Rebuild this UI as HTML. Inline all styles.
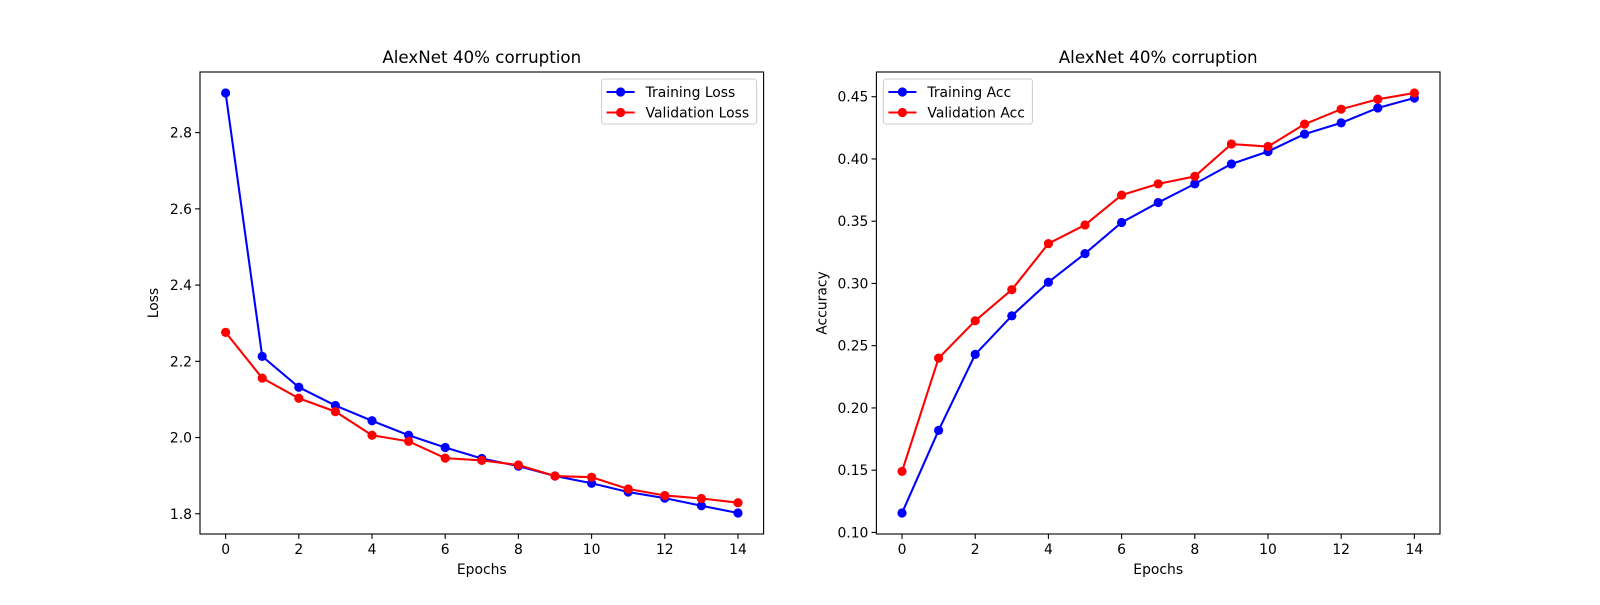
<!DOCTYPE html>
<html><head><meta charset="utf-8"><style>
body{margin:0;background:#fff}
svg text{font-family:"DejaVu Sans","Liberation Sans",sans-serif;fill:#000}
</style></head><body>
<svg id="fig" width="1600" height="600" xmlns="http://www.w3.org/2000/svg"></svg>
<script>
const epochs=[0,1,2,3,4,5,6,7,8,9,10,11,12,13,14];
const trainLoss=[2.904,2.213,2.132,2.084,2.044,2.006,1.974,1.945,1.925,1.899,1.880,1.857,1.841,1.821,1.802];
const valLoss=[2.276,2.156,2.103,2.068,2.006,1.990,1.946,1.940,1.928,1.899,1.896,1.865,1.848,1.840,1.829];
const trainAcc=[0.1156,0.182,0.243,0.274,0.301,0.324,0.349,0.365,0.380,0.396,0.406,0.420,0.429,0.441,0.449];
const valAcc=[0.149,0.240,0.270,0.295,0.332,0.347,0.371,0.380,0.386,0.412,0.410,0.428,0.440,0.448,0.453];
const xTicks=[0,2,4,6,8,10,12,14];
const lossTicks=[1.8,2.0,2.2,2.4,2.6,2.8];
const accTicks=[0.10,0.15,0.20,0.25,0.30,0.35,0.40,0.45];
const NS="http://www.w3.org/2000/svg";
const svg=document.getElementById('fig');
function mk(tag,attrs,parent){const e=document.createElementNS(NS,tag);for(const k in attrs)e.setAttribute(k,attrs[k]);(parent||svg).appendChild(e);return e;}
function panel(cfg){
  const L=cfg.left,R=cfg.left+563.6,T=72,B=534;
  const g=mk('g',{});
  
  
  const all=cfg.s1.concat(cfg.s2);
  const mn=Math.min(...all),mx=Math.max(...all),pad=(mx-mn)*0.05;
  const y0=mn-pad,y1=mx+pad;
  const xs=v=>L+(v+0.7)/15.4*(R-L);
  const ys=v=>B-(v-y0)/(y1-y0)*(B-T);
  xTicks.forEach(t=>{
    const x=xs(t);
    const l=mk('line',{x1:x,x2:x,y1:B,y2:B+4.9,stroke:'#000','stroke-width':1.1},g);
    
    const tx=mk('text',{x:x,y:B+20,'text-anchor':'middle','font-size':'13.9px'},g);
    tx.textContent=t;
    
  });
  cfg.yt.forEach(t=>{
    const y=ys(t);
    const l=mk('line',{x1:L-4.9,x2:L,y1:y,y2:y,stroke:'#000','stroke-width':1.1},g);
    
    const tx=mk('text',{x:L-8,y:y+5,'text-anchor':'end','font-size':'13.9px'},g);
    tx.textContent=t.toFixed(cfg.dec);
    
  });
  [[cfg.s1,'#0000ff','train-line'],[cfg.s2,'#ff0000','val-line']].forEach(([s,c,n])=>{
    const p=mk('polyline',{points:s.map((v,i)=>xs(epochs[i])+','+ys(v)).join(' '),fill:'none',stroke:c,'stroke-width':2.08},g);
    
    s.forEach((v,i)=>{
      const m=mk('circle',{cx:xs(epochs[i]),cy:ys(v),r:4.6,fill:c},g);
      
    });
  });
  const fr=mk('rect',{x:L,y:T,width:R-L,height:B-T,fill:'none',stroke:'#000','stroke-width':1.1},g);
  
  const ti=mk('text',{x:(L+R)/2,y:T-9,'text-anchor':'middle','font-size':'16.7px'},g);
  ti.textContent='AlexNet 40% corruption';
  
  const xl=mk('text',{x:(L+R)/2,y:B+40,'text-anchor':'middle','font-size':'13.9px'},g);
  xl.textContent='Epochs';
  
  const yx=L-cfg.ylOff,yy=(T+B)/2;
  const yl=mk('text',{x:yx,y:yy,'text-anchor':'middle','font-size':'13.9px',transform:`rotate(-90 ${yx} ${yy})`},g);
  yl.textContent=cfg.ylabel;
  
  // legend
  const lw=cfg.legW,lx=cfg.legRight?R-7-lw:L+7,ly=T+7;
  const lg=mk('g',{},g);
  
  mk('rect',{x:lx,y:ly,width:lw,height:45,rx:2.5,fill:'#fff','fill-opacity':0.8,stroke:'#ccc','stroke-width':1},lg);
  [[cfg.n1,'#0000ff',0],[cfg.n2,'#ff0000',1]].forEach(([nm,c,i])=>{
    const yy2=ly+13+i*20.5;
    const e=mk('g',{},lg);
    
    mk('line',{x1:lx+5,x2:lx+33,y1:yy2,y2:yy2,stroke:c,'stroke-width':2.08},e);
    mk('circle',{cx:lx+19,cy:yy2,r:4.6,fill:c},e);
    const t=mk('text',{x:lx+44,y:yy2+5,'font-size':'13.9px'},e);t.textContent=nm;
  });
}
panel({name:'loss-chart',left:200,s1:trainLoss,s2:valLoss,yt:lossTicks,dec:1,ylabel:'Loss',ylOff:42,n1:'Training Loss',n2:'Validation Loss',legRight:true,legW:155});
panel({name:'accuracy-chart',left:876.4,s1:trainAcc,s2:valAcc,yt:accTicks,dec:2,ylabel:'Accuracy',ylOff:50,n1:'Training Acc',n2:'Validation Acc',legRight:false,legW:149});
</script>
</body></html>
